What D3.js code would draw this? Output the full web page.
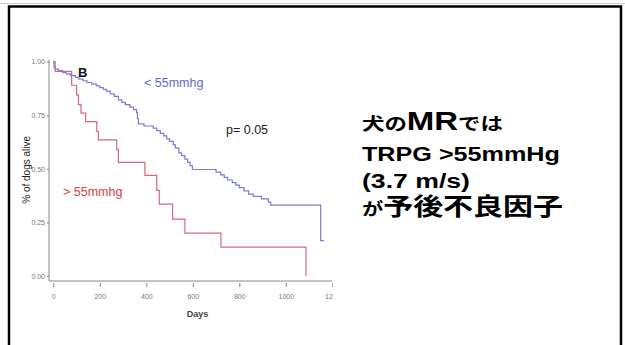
<!DOCTYPE html>
<html>
<head>
<meta charset="utf-8">
<script src="https://cdn.jsdelivr.net/npm/d3@7"></script>
<style>
  body { margin: 0; background: #fff; }
  svg { display: block; }
  .tick text { font-family: "Liberation Sans Narrow", "Arial Narrow", sans-serif; font-size: 7px; fill: #777; }
  .tick line { stroke: #888; }
</style>
</head>
<body>
<div id="chart"></div>
<script>
// survival curves: [day, proportion alive]
var lowDays = [0, 3, 8, 22, 40, 55, 75, 95, 110, 128, 145, 165, 185, 200, 215, 228, 245, 262, 280, 295, 310, 330, 345, 358, 362, 366, 390, 430, 445, 460, 475, 488, 500, 516, 525, 540, 552, 566, 578, 588, 598, 700, 720, 735, 750, 770, 785, 800, 820, 840, 860, 895, 925, 935, 1150, 1164];
var lowSurv = [1.0, 0.975, 0.965, 0.958, 0.95, 0.943, 0.935, 0.927, 0.919, 0.911, 0.903, 0.895, 0.887, 0.879, 0.871, 0.863, 0.85, 0.838, 0.822, 0.81, 0.8, 0.788, 0.776, 0.762, 0.735, 0.71, 0.7, 0.69, 0.678, 0.666, 0.654, 0.64, 0.628, 0.612, 0.598, 0.575, 0.562, 0.545, 0.53, 0.515, 0.497, 0.485, 0.472, 0.46, 0.448, 0.436, 0.424, 0.412, 0.397, 0.382, 0.372, 0.36, 0.345, 0.331, 0.165, 0.165];

var highDays = [0, 8, 79, 100, 108, 119, 139, 187, 194, 273, 280, 394, 445, 456, 513, 566, 721, 1087];
var highSurv = [1.0, 0.955, 0.89, 0.845, 0.80, 0.76, 0.72, 0.675, 0.635, 0.59, 0.53, 0.47, 0.40, 0.335, 0.265, 0.20, 0.135, 0.0];

var xTicks = [0, 200, 400, 600, 800, 1000, 1200];
var yTicks = [0, 0.25, 0.5, 0.75, 1];

var W = 625, H = 345;

var svg = d3.select("#chart").append("svg")
    .attr("width", W)
    .attr("height", H);

// slide frame
svg.append("line")
    .attr("x1", 0).attr("x2", W).attr("y1", 3.5).attr("y2", 3.5)
    .attr("stroke", "#ccc").attr("stroke-width", 1);
svg.append("rect")
    .attr("x", 9).attr("y", 6.5)
    .attr("width", 612).attr("height", 360)
    .attr("fill", "#fff")
    .attr("stroke", "#000")
    .attr("stroke-width", 2.5);

svg.append("defs").append("clipPath")
    .attr("id", "clip")
    .append("rect")
    .attr("x", 0).attr("y", 0)
    .attr("width", 333).attr("height", H);

var plot = svg.append("g").attr("clip-path", "url(#clip)");

var x = d3.scaleLinear().domain([0, 1200]).range([53.3, 332.3]);
var y = d3.scaleLinear().domain([0, 1]).range([276, 61.7]);

// axes
var yAxis = plot.append("g")
    .attr("transform", "translate(" + (x(0) - 4.3) + ",0)")
    .call(d3.axisLeft(y).tickValues(yTicks).tickSize(2).tickPadding(2).tickFormat(d3.format(".2f")));
yAxis.select(".domain").remove();

var xAxis = plot.append("g")
    .attr("transform", "translate(0," + (y(0) + 7) + ")")
    .call(d3.axisBottom(x).tickValues(xTicks).tickSize(4).tickPadding(7).tickFormat(d3.format("d")));
xAxis.select(".domain").remove();

plot.append("line")
    .attr("x1", x(0) - 4.3).attr("x2", x(0) - 4.3)
    .attr("y1", y(1) - 2).attr("y2", y(0) + 5)
    .attr("stroke", "#888").attr("stroke-width", 1);
plot.append("line")
    .attr("x1", x(0) - 4.3).attr("x2", x(1200))
    .attr("y1", y(0) + 5).attr("y2", y(0) + 5)
    .attr("stroke", "#888").attr("stroke-width", 1);

// curves
var line = d3.line().curve(d3.curveStepAfter)
    .x(function(d) { return x(d[0]); })
    .y(function(d) { return y(d[1]); });

var lowData = lowDays.map(function(d, i) { return [d, lowSurv[i]]; });
var highData = highDays.map(function(d, i) { return [d, highSurv[i]]; });

plot.append("path")
    .attr("d", line(highData))
    .attr("fill", "none")
    .attr("stroke", "#d9687c")
    .attr("stroke-width", 1.2);

plot.append("path")
    .attr("d", line(lowData))
    .attr("fill", "none")
    .attr("stroke", "#7b7bd8")
    .attr("stroke-width", 1.2);

// labels
plot.append("text")
    .attr("transform", "translate(30," + ((y(0) + y(1)) / 2 + 1) + ") rotate(-90)")
    .attr("text-anchor", "middle")
    .style("font-family", "Liberation Sans, Arial, sans-serif")
    .style("font-size", "10px")
    .style("fill", "#222")
    .text("% of dogs alive");

plot.append("text")
    .attr("x", (x(0) + x(1200)) / 2 + 4.7).attr("y", 317)
    .attr("text-anchor", "middle")
    .style("font-family", "Liberation Sans, Arial, sans-serif")
    .style("font-size", "9px")
    .style("font-weight", "bold")
    .style("fill", "#444")
    .text("Days");

plot.append("text")
    .attr("x", 78).attr("y", 77)
    .style("font-family", "Liberation Sans, Arial, sans-serif")
    .style("font-size", "13px")
    .style("font-weight", "bold")
    .style("fill", "#111")
    .text("B");

plot.append("text")
    .attr("x", 144).attr("y", 87)
    .style("font-family", "Liberation Sans, Arial, sans-serif")
    .style("font-size", "12.5px")
    .style("fill", "#5d6cc6")
    .text("< 55mmhg");

plot.append("text")
    .attr("x", 63).attr("y", 196)
    .style("font-family", "Liberation Sans, Arial, sans-serif")
    .style("font-size", "12.5px")
    .style("fill", "#d6423e")
    .text("> 55mmhg");

plot.append("text")
    .attr("x", 226).attr("y", 134)
    .style("font-family", "Liberation Sans, Arial, sans-serif")
    .style("font-size", "12.5px")
    .style("fill", "#222")
    .text("p= 0.05");

// right-hand message, stretched horizontally like the slide
var msgLines = [
    { parts: [["犬の", 17], ["MR", 25], ["では", 17]], y: 130, width: 141 },
    { parts: [["TRPG >55mmHg", 21]], y: 161, width: 198 },
    { parts: [["(3.7 m/s)", 21]], y: 188, width: 108 },
    { parts: [["が", 17], ["予後不良因子", 24]], y: 215, width: 201 }
];

msgLines.forEach(function(l) {
    var t = svg.append("text")
        .style("font-family", "Liberation Sans, Noto Sans CJK JP, sans-serif")
        .style("font-weight", "bold")
        .style("fill", "#000");
    l.parts.forEach(function(p) {
        t.append("tspan").style("font-size", p[1] + "px").text(p[0]);
    });
    var w = t.node().getComputedTextLength();
    t.attr("transform", "translate(362," + l.y + ") scale(" + (l.width / w) + ",1)");
});
</script>
</body>
</html>
